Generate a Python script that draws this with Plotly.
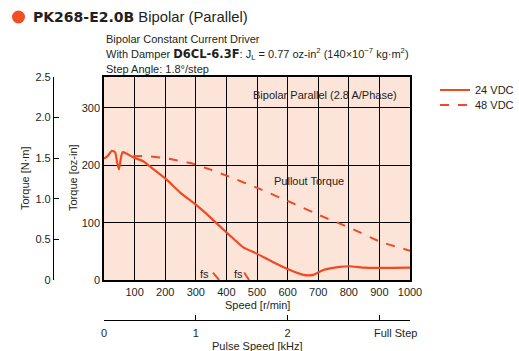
import plotly.graph_objects as go

# ---- data (speed r/min, torque oz-in) ----
speed_24 = [0, 12, 25, 36, 43, 49, 55, 61, 75, 95, 128, 150, 205, 250, 303, 350, 390, 425, 455, 499, 550, 608, 652, 684, 717, 771, 804, 848, 1000]
torque_24 = [212, 216, 225, 223, 205, 193, 212, 223, 220, 214, 207, 198, 175, 152, 130, 108, 88, 71, 57, 46, 32, 17.5, 9, 9, 17.5, 23, 24, 21.5, 21.5]
speed_48 = [95, 140, 205, 281, 340, 400, 499, 608, 717, 804, 902, 1000]
torque_48 = [216, 216, 212, 204, 194, 182, 161, 136, 110, 91, 67, 51]
fs_24_speed = [356, 376]
fs_24_torque = [13, 0]
fs_48_speed = [458, 474]
fs_48_torque = [13, 0]

oz_ticks = [0, 100, 200, 300]
nm_ticks = [0, 0.5, 1.0, 1.5, 2.0, 2.5]
nm_labels = ["0", "0.5", "1.0", "1.5", "2.0", "2.5"]
speed_ticks = [100, 200, 300, 400, 500, 600, 700, 800, 900, 1000]
pulse_ticks = [0, 1, 2, 3]
pulse_labels = ["0", "1", "2", ""]

OZ_PER_NM = 141.6
Y_MAX_NM = 2.5
Y_MAX_OZ = Y_MAX_NM * OZ_PER_NM
RPM_PER_KHZ = 300.0

RED = "#EF4A22"
TXT = "#231F20"
FONT = "Liberation Sans, Arial, sans-serif"

W, H = 519, 351
xl, xr = 104 / W, 410 / W
yb, yt = 1 - 280 / H, 1 - 77 / H

fig = go.Figure()
fig.add_trace(go.Scatter(x=speed_24, y=torque_24, mode="lines", name="24 VDC", legend="legend",
                         line=dict(color=RED, width=2.2, shape="spline", smoothing=0.6)))
fig.add_trace(go.Scatter(x=speed_48, y=torque_48, mode="lines", name="48 VDC", legend="legend2",
                         line=dict(color=RED, width=2, dash="dash", shape="spline", smoothing=0.6)))
fig.add_trace(go.Scatter(x=fs_24_speed, y=fs_24_torque, mode="lines", showlegend=False,
                         line=dict(color=RED, width=2)))
fig.add_trace(go.Scatter(x=fs_48_speed, y=fs_48_torque, mode="lines", showlegend=False,
                         line=dict(color=RED, width=2)))
# invisible traces to activate secondary axes
fig.add_trace(go.Scatter(x=[0], y=[0], yaxis="y2", mode="markers", opacity=0,
                         showlegend=False, hoverinfo="skip"))
fig.add_trace(go.Scatter(x=[0], y=[0], xaxis="x2", mode="markers", opacity=0,
                         showlegend=False, hoverinfo="skip"))

tf = dict(size=11, family=FONT, color=TXT)
fig.update_layout(
    width=W, height=H,
    margin=dict(l=0, r=0, t=0, b=0, autoexpand=False),
    paper_bgcolor="white",
    plot_bgcolor="#FDE4D8",
    font=dict(family=FONT, size=11, color=TXT),
    xaxis=dict(domain=[xl, xr], range=[0, 1000], tickvals=speed_ticks,
               showgrid=True, gridcolor="black", gridwidth=1,
               showline=True, linecolor="black", linewidth=1.5, mirror=True,
               ticks="outside", ticklen=1, tickcolor="rgba(0,0,0,0)",
               zeroline=False, tickfont=tf, anchor="y"),
    yaxis=dict(domain=[yb, yt], range=[0, Y_MAX_OZ], tickvals=oz_ticks,
               showgrid=True, gridcolor="black", gridwidth=1,
               showline=True, linecolor="black", linewidth=1.5, mirror=True,
               ticks="", zeroline=False, tickfont=tf, anchor="x"),
    yaxis2=dict(overlaying="y", anchor="free", position=53 / W, side="left",
                range=[0, Y_MAX_NM], tickvals=nm_ticks, ticktext=nm_labels,
                showgrid=False, zeroline=False, showline=True, linecolor="black",
                linewidth=1.2, ticks="inside", ticklen=5, tickcolor="black", tickfont=tf),
    xaxis2=dict(overlaying="x", anchor="free", position=1 - 320 / H, side="bottom",
                range=[0, 1000 / RPM_PER_KHZ], tickvals=pulse_ticks, ticktext=pulse_labels,
                showgrid=False, zeroline=False, showline=True, linecolor="black",
                linewidth=1.2, ticks="inside", ticklen=5, tickcolor="black", tickfont=tf,
                ticklabelstandoff=3),
    legend=dict(x=435 / W, y=1 - 90 / H, xanchor="left", yanchor="middle",
                bgcolor="rgba(0,0,0,0)", font=tf, itemwidth=30),
    legend2=dict(x=435 / W, y=1 - 105 / H, xanchor="left", yanchor="middle",
                 bgcolor="rgba(0,0,0,0)", font=tf, itemwidth=30),
    showlegend=True,
)

ann = [
    dict(x=31 / W, y=1 - 17 / H,
         text="<span style='font-family:DejaVu Sans;font-weight:bold;font-size:14px'>PK268-E2.0B</span> Bipolar (Parallel)",
         font=dict(size=14.8, family=FONT, color=TXT), xanchor="left"),
    dict(x=104 / W, y=1 - 39 / H, text="Bipolar Constant Current Driver",
         font=tf, xanchor="left"),
    dict(x=104 / W, y=1 - 54 / H,
         text="With Damper <span style='font-family:DejaVu Sans;font-weight:bold;font-size:11.5px'>D6CL-6.3F</span>: J<sub>L</sub> = 0.77 oz-in<sup>2</sup> (140×10<sup>−7</sup> kg·m<sup>2</sup>)",
         font=tf, xanchor="left"),
    dict(x=104 / W, y=1 - 69 / H, text="Step Angle: 1.8°/step", font=tf, xanchor="left"),
    dict(x=325 / W, y=1 - 95 / H, text="Bipolar Parallel (2.8 A/Phase)", font=tf, xanchor="center"),
    dict(x=309 / W, y=1 - 181 / H, text="Pullout Torque", font=tf, xanchor="center"),
    dict(x=204 / W, y=1 - 274 / H, text="fs", font=tf, xanchor="center"),
    dict(x=238 / W, y=1 - 274 / H, text="fs", font=tf, xanchor="center"),
    dict(x=257 / W, y=1 - 305 / H, text="Speed [r/min]", font=tf, xanchor="center"),
    dict(x=257 / W, y=1 - 346 / H, text="Pulse Speed [kHz]", font=tf, xanchor="center"),
    dict(x=419 / W, y=1 - 333 / H, text="Full Step", font=tf, xanchor="right"),
    dict(x=25 / W, y=1 - 178 / H, text="Torque [N·m]", textangle=-90, font=tf, xanchor="center"),
    dict(x=73 / W, y=1 - 178 / H, text="Torque [oz-in]", textangle=-90, font=tf, xanchor="center"),
]
for a in ann:
    a.update(xref="paper", yref="paper", showarrow=False, yanchor="middle")
fig.update_layout(annotations=ann)

fig.add_shape(type="circle", xref="paper", yref="paper",
              x0=12 / W, x1=25 / W, y0=1 - 23.5 / H, y1=1 - 10.5 / H,
              fillcolor="#F04E23", line=dict(width=0))

fig.write_html("out.html", post_script="document.body.style.margin='0';document.body.style.overflow='hidden';")
